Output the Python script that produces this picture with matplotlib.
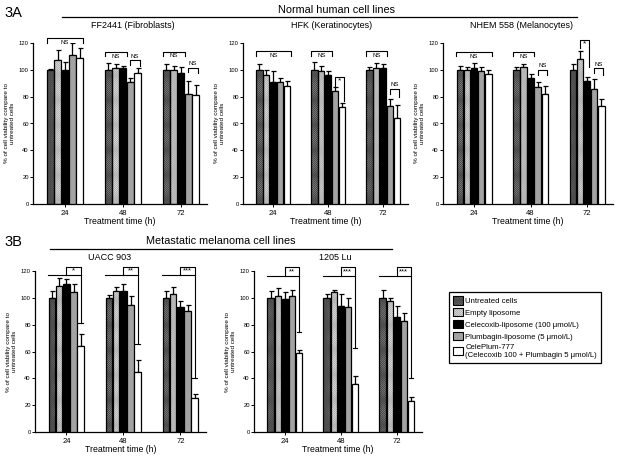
import matplotlib
matplotlib.use("Agg")
import matplotlib.pyplot as plt
from matplotlib.patches import Patch
import numpy as np

plt.rcParams['font.family'] = ['Liberation Sans', 'DejaVu Sans']
plt.rcParams['hatch.linewidth'] = 0.5

# treatments (legend order)
treatments = ['Untreated cells', 'Empty liposome', 'Celecoxib-liposome (100 \u03bcmol/L)',
              'Plumbagin-liposome (5 \u03bcmol/L)',
              'CelePlum-777\n(Celecoxib 100 + Plumbagin 5 \u03bcmol/L)']
times = ['24', '48', '72']

# mean viability (%) per time point, one row per time, one column per treatment
ff2441_mean = [[100, 107, 100, 111, 109], [100, 101, 101, 91, 98], [100, 100, 98, 82, 81]]
ff2441_err = [[0.5, 8, 6, 9, 7], [5, 3, 2, 3, 3], [4, 3, 4, 10, 8]]
hfk_mean = [[100, 96, 91, 91, 88], [100, 99, 96, 84, 72], [100, 101, 101, 73, 64]]
hfk_err = [[4, 4, 8, 3, 4], [6, 4, 3, 3, 3], [2, 4, 3, 5, 10]]
nhem_mean = [[100, 100, 101, 99, 97], [100, 102, 94, 87, 82], [100, 108, 92, 86, 73]]
nhem_err = [[3, 2, 4, 3, 3], [2, 2, 3, 4, 6], [4, 6, 3, 7, 5]]
uacc_mean = [[100, 109, 110, 104, 64], [100, 105, 105, 95, 45], [100, 103, 93, 90, 25]]
uacc_err = [[5, 6, 4, 6, 9], [2, 3, 5, 6, 9], [5, 5, 5, 5, 3]]
lu_mean = [[100, 101, 99, 101, 59], [100, 104, 94, 93, 36], [100, 98, 86, 83, 23]]
lu_err = [[5, 6, 5, 5, 2], [3, 2, 9, 7, 6], [6, 2, 8, 6, 3]]

# significance labels
ff2441_sig = ['NS', 'NS', 'NS', 'NS', 'NS']
hfk_sig = ['NS', 'NS', '*', 'NS', 'NS']
nhem_sig = ['NS', 'NS', 'NS', '*', 'NS']
uacc_sig = ['*', '**', '***']
lu_sig = ['**', '***', '***']

# bar styles: face, hatch, hatch colour
styles = [('#9a9a9a', 'x' * 16, '#4a4a4a'),
          ('#f2f2f2', 'x' * 16, '#b4b4b4'),
          ('#000000', '', '#000000'),
          ('#a3a3a3', '', '#a3a3a3'),
          ('#ffffff', '', '#ffffff')]

W, H = 622, 457
fig = plt.figure(figsize=(W / 100, H / 100), dpi=100)

SLOT = 0.126
BW = 0.114
XL = (-0.55, 2.45)


def make_ax(left, spacing, top, bottom):
    width = spacing * (XL[1] - XL[0])
    ax = fig.add_axes([left / W, 1 - bottom / H, width / W, (bottom - top) / H])
    return ax


def bar_x(g, i):
    return g + (i - 2) * SLOT


def draw_bars(ax, mean, err):
    mean = np.array(mean)
    err = np.array(err)
    for i in range(5):
        xs = [bar_x(g, i) for g in range(3)]
        fc, hatch, hc = styles[i]
        if hatch:
            ax.bar(xs, mean[:, i], BW, color=fc, hatch=hatch, edgecolor=hc, linewidth=0, zorder=2)
            ax.bar(xs, mean[:, i], BW, facecolor='none', edgecolor='black', linewidth=0.9, zorder=3)
        else:
            ax.bar(xs, mean[:, i], BW, color=fc, edgecolor='black', linewidth=0.9, zorder=3)
        ax.errorbar(xs, mean[:, i], yerr=[np.zeros(3), err[:, i]], fmt='none', ecolor='black',
                    elinewidth=0.9, capsize=1.8, capthick=0.9, zorder=1)
    ax.set_xlim(*XL)
    ax.set_ylim(0, 120)
    ax.set_yticks(range(0, 121, 20))
    ax.set_xticks(range(3))
    ax.set_xticklabels(times, fontsize=5.5)
    ax.tick_params(axis='y', labelsize=4.2, length=2, width=0.7, pad=1)
    ax.tick_params(axis='x', length=2.5, width=0.7, pad=1.5)
    ax.spines['top'].set_visible(False)
    ax.spines['right'].set_visible(False)
    ax.spines['left'].set_linewidth(0.9)
    ax.spines['bottom'].set_linewidth(0.9)
    ax.set_xlabel('Treatment time (h)', fontsize=6.3, labelpad=0)
    ax.set_ylabel('% of cell viability compare to\nuntreated cells', fontsize=4.6, labelpad=3,
                  linespacing=1.1)


def ns_brackets(ax, specs, labels):
    kw = dict(color='black', lw=0.8, clip_on=False)
    for (g, i, j, top, lo1, lo2, pos), lab in zip(specs, labels):
        x1, x2 = bar_x(g, i), bar_x(g, j)
        ax.plot([x1, x1, x2, x2], [lo1, top, top, lo2], **kw)
        xm = (x1 + x2) / 2
        if pos == 'in':
            ax.text(xm, top - 1.2, lab, ha='center', va='top', fontsize=4.3)
        elif pos == 'above':
            ax.text(xm, top + 1.2, lab, ha='center', va='bottom', fontsize=4.3)
        else:
            ax.text(xm, (top + lo1) / 2, lab, ha='center', va='center', fontsize=6)


def star_brackets(ax, bottoms, labels, line_y):
    kw = dict(color='black', lw=0.8, clip_on=False)
    for g, (lo, lab) in enumerate(zip(bottoms, labels)):
        x0, xm, x4 = bar_x(g, -0.5), bar_x(g, 2), bar_x(g, 4)
        ax.plot([x0, x4], [line_y, line_y], **kw)
        ax.plot([xm, xm, x4, x4], [line_y, 123.2, 123.2, lo], **kw)
        ax.plot([x4 - 0.04, x4 + 0.04], [lo, lo], **kw)
        ax.text((xm + x4) / 2, (line_y + 123.2) / 2, lab, ha='center', va='center', fontsize=5.5)


# ---- 3A ----
ax1 = make_ax(33, 58, 43, 204)
draw_bars(ax1, ff2441_mean, ff2441_err)
ns_brackets(ax1, [(0, -0.5, 4.5, 123.5, 120, 120, 'in'),
                  (1, -0.5, 2.5, 113, 110, 110, 'in'),
                  (1, 3, 4.3, 107, 103.5, 103, 'above'),
                  (2, -0.5, 2.5, 113.5, 110, 110, 'in'),
                  (2, 3, 4.3, 101.5, 98.5, 98, 'above')], ff2441_sig)

ax2 = make_ax(243, 55, 43, 204)
draw_bars(ax2, hfk_mean, hfk_err)
ns_brackets(ax2, [(0, -0.5, 4.5, 114, 110, 110, 'in'),
                  (1, -0.5, 2.5, 114, 110, 110, 'in'),
                  (1, 3, 4.3, 95, 88, 77, 'box'),
                  (2, -0.5, 2.5, 114, 110, 110, 'in'),
                  (2, 3, 4.3, 86, 82, 80, 'above')], hfk_sig)

ax3 = make_ax(443, 56.5, 43, 204)
draw_bars(ax3, nhem_mean, nhem_err)
ns_brackets(ax3, [(0, -0.5, 4.5, 113, 110, 110, 'in'),
                  (1, -0.5, 2.5, 113, 110, 110, 'in'),
                  (1, 3, 4.3, 100, 96, 96, 'above'),
                  (2, 1, 2.3, 122, 116, 102, 'box'),
                  (2, 3, 4.3, 101, 97.5, 96.5, 'above')], nhem_sig)

# ---- 3B ----
ax4 = make_ax(35, 57, 271, 432)
draw_bars(ax4, uacc_mean, uacc_err)
star_brackets(ax4, [81.5, 65.6, 40.5], uacc_sig, 117)

ax5 = make_ax(254, 56, 271, 432)
draw_bars(ax5, lu_mean, lu_err)
star_brackets(ax5, [74.3, 62.8, 40.5], lu_sig, 116)

# headings
def ftext(x, y, s, size, **kw):
    fig.text(x / W, 1 - y / H, s, fontsize=size, ha=kw.pop('ha', 'center'), va='center', **kw)


def fline(x1, x2, y):
    fig.add_artist(plt.Line2D([x1 / W, x2 / W], [1 - y / H, 1 - y / H], color='black', lw=0.9))


ftext(4, 13, '3A', 10.5, ha='left')
ftext(336, 10, 'Normal human cell lines', 7.8)
fline(62, 577, 17)
ftext(133, 26, 'FF2441 (Fibroblasts)', 6.5)
ftext(332, 26, 'HFK (Keratinocytes)', 6.5)
ftext(522, 26, 'NHEM 558 (Melanocytes)', 6.5)

ftext(4, 242, '3B', 10.5, ha='left')
ftext(221, 241, 'Metastatic melanoma cell lines', 7.8)
fline(50, 392, 249)
ftext(110, 257, 'UACC 903', 6.5)
ftext(335, 257, '1205 Lu', 6.5)

# legend
handles = []
for fc, hatch, hc in styles:
    if hatch:
        handles.append((Patch(facecolor=fc, hatch=hatch, edgecolor=hc, linewidth=0),
                        Patch(facecolor='none', edgecolor='black', linewidth=0.8)))
    else:
        handles.append(Patch(facecolor=fc, edgecolor='black', linewidth=0.8))
leg = fig.legend(handles, treatments, loc='upper left',
                 bbox_to_anchor=(449 / W, 1 - 292 / H), fontsize=5.6, frameon=True,
                 fancybox=False, edgecolor='black', framealpha=1, handlelength=1.25,
                 handleheight=1.25, handletextpad=0.3, labelspacing=0.4, borderpad=0.55,
                 borderaxespad=0)
leg.get_frame().set_linewidth(0.9)

fig.savefig('out.png', dpi=100)
